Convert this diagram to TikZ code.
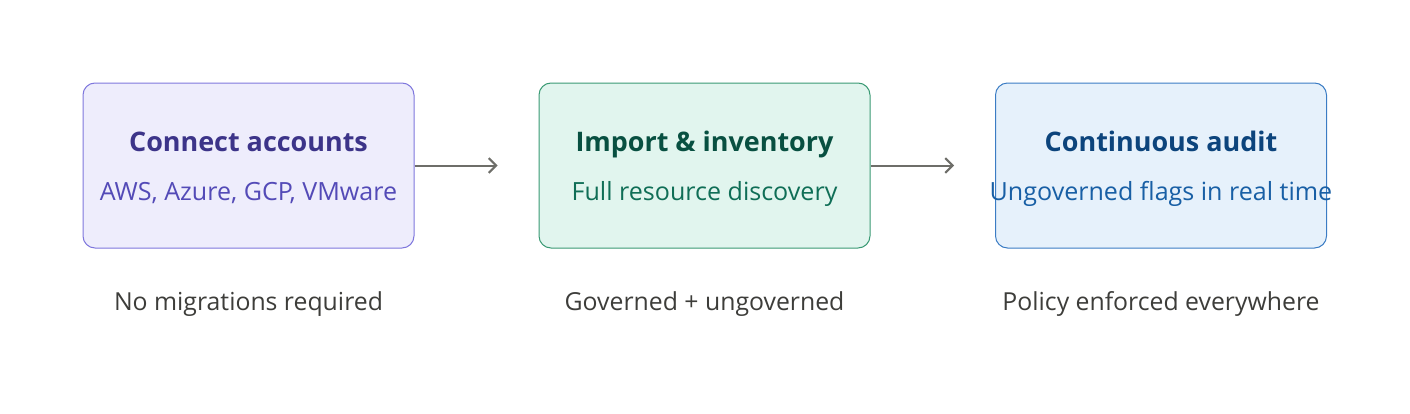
\documentclass[tikz,border=0pt]{standalone}
\usepackage{fontspec}
\setmainfont{Open Sans}
\usepackage{tikz}
\usetikzlibrary{arrows.meta,positioning}
\definecolor{violetfill}{HTML}{EEEDFC}
\definecolor{violetline}{HTML}{7F77DD}
\definecolor{violetdark}{HTML}{3C3489}
\definecolor{violettext}{HTML}{534AB7}
\definecolor{tealfill}{HTML}{E1F5EE}
\definecolor{tealline}{HTML}{3A9A74}
\definecolor{tealdark}{HTML}{085041}
\definecolor{tealtext}{HTML}{0F6E56}
\definecolor{bluefill}{HTML}{E6F1FB}
\definecolor{blueline}{HTML}{3B7CC4}
\definecolor{bluedark}{HTML}{0C447C}
\definecolor{bluetext}{HTML}{185FA5}
\definecolor{arrowgray}{HTML}{6E6E69}
\definecolor{notegray}{HTML}{3D3D3A}

\begin{document}
\begin{tikzpicture}[
  x=0.75pt, y=-0.75pt,
  stage/.style={rounded corners=9pt, line width=0.75pt, minimum width=331*0.75pt,
    minimum height=165*0.75pt, inner sep=0pt},
  title/.style={anchor=base, font=\fontsize{20.2}{24}\selectfont\bfseries},
  sub/.style={anchor=base, font=\fontsize{18.8}{22}\selectfont},
  note/.style={anchor=base, font=\fontsize{18.6}{22}\selectfont, text=notegray},
  arr/.style={-{Straight Barb[length=5.5pt, width=11pt]}, line width=1.5pt, draw=arrowgray,
    shorten >=41*0.75pt},
]
\useasboundingbox (0,0) rectangle (1410,414);
\node[stage, draw=violetline, fill=violetfill] (connect) at (248.5,165.5) {};
\node[stage, draw=tealline, fill=tealfill] (import) at (704.5,165.5) {};
\node[stage, draw=blueline, fill=bluefill] (audit) at (1161,165.5) {};
\node[title, text=violetdark] (connecttitle) at (248.5,151) {Connect accounts};
\node[sub, text=violettext] (connectsub) at (248.5,200) {AWS, Azure, GCP, VMware};
\node[title, text=tealdark] (importtitle) at (704.5,151) {Import \& inventory};
\node[sub, text=tealtext] (importsub) at (704.5,200) {Full resource discovery};
\node[title, text=bluedark] (audittitle) at (1161,151) {Continuous audit};
\node[sub, text=bluetext] (auditsub) at (1161,200) {Ungoverned flags in real time};
\node[note] (connectnote) at (248.5,310) {No migrations required};
\node[note] (importnote) at (704.5,310) {Governed + ungoverned};
\node[note] (auditnote) at (1161,310) {Policy enforced everywhere};
\draw[arr] (connect) -- (import);
\draw[arr] (import) -- (audit);
\end{tikzpicture}
\end{document}
